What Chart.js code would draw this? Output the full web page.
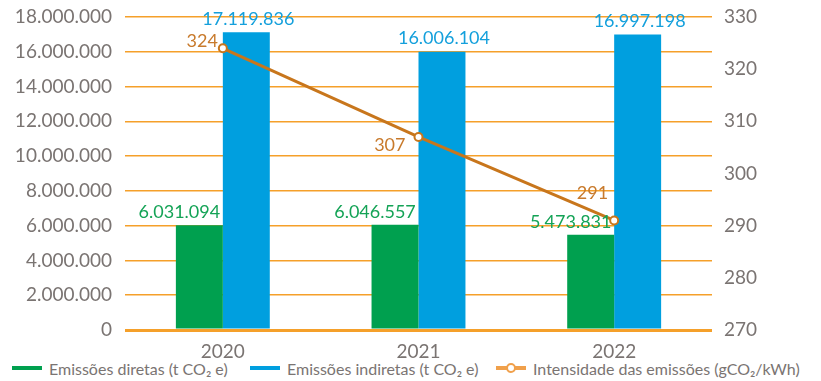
<!DOCTYPE html>
<html lang="pt-BR">
<head>
<meta charset="utf-8">
<script src="https://cdn.jsdelivr.net/npm/chart.js@4.4.1/dist/chart.umd.min.js"></script>
<style>
  html, body { margin: 0; padding: 0; background: #fff; }
  #wrap { position: relative; width: 821px; height: 381px; font-family: Lato, "Noto Sans", sans-serif; }
  #chart { position: absolute; left: 0; top: 0; }
  .legend-item { position: absolute; top: 358px; height: 20px; display: flex; align-items: center; font-size: 16px; color: #7a7472; white-space: nowrap; }
  .legend-item .mark { position: relative; width: 30px; height: 4px; margin-right: 7px; }
  .legend-item .dot { position: absolute; left: 10px; top: -3px; width: 10px; height: 10px; border: 2px solid #f0a04b; border-radius: 50%; background: #fff; box-sizing: border-box; }
</style>
</head>
<body>
<div id="wrap">
  <canvas id="chart" width="821" height="358"></canvas>
  <div class="legend-item" style="left:12px"><span class="mark" style="background:#00a04f"></span>Emissões diretas (t CO₂ e)</div>
  <div class="legend-item" style="left:250px"><span class="mark" style="background:#009fdf"></span>Emissões indiretas (t CO₂ e)</div>
  <div class="legend-item" style="left:496px"><span class="mark" style="background:#f0a04b"><span class="dot"></span></span>Intensidade das emissões (gCO₂/kWh)</div>
</div>
<script>
// ===============================
// DATA
// ===============================
const years = ["2020", "2021", "2022"];
const diretas = [6031094, 6046557, 5473831];
const indiretas = [17119836, 16006104, 16997198];
const intensidade = [324, 307, 291];

// label offsets for the intensity values (dx, dy from the point)
const lineLabelOffsets = [[-5, -7], [-13, 8], [-6, -27]];

const GREY = "#7a7472";
const GRID = "#f5a02a";

function fmtBR(v) {
  return String(Math.round(v)).replace(/\B(?=(\d{3})+(?!\d))/g, ".");
}

// vertical axes: no extra padding for the first/last tick label
function fitVertical(width) {
  return scale => {
    scale.width = width;
    scale.paddingTop = 0;
    scale.paddingBottom = 0;
  };
}

// ===============================
// VALUE LABELS
// ===============================
const valueLabels = {
  id: "valueLabels",
  afterDatasetsDraw(chart) {
    const ctx = chart.ctx;
    ctx.save();
    ctx.font = "18px Lato, 'Noto Sans', sans-serif";
    chart.data.datasets.forEach((ds, i) => {
      const meta = chart.getDatasetMeta(i);
      meta.data.forEach((el, j) => {
        const v = ds.data[j];
        if (ds.type === "line") {
          const off = lineLabelOffsets[j];
          ctx.fillStyle = "#c87a2c";
          ctx.textAlign = "right";
          ctx.textBaseline = "middle";
          ctx.fillText(String(v), el.x + off[0], el.y + off[1]);
        } else {
          ctx.fillStyle = ds.labelColor;
          ctx.textAlign = "center";
          ctx.textBaseline = "bottom";
          ctx.fillText(fmtBR(v), el.x + ds.labelShift, el.y - 4);
        }
      });
    });
    ctx.restore();
  }
};

// ===============================
// CHART
// ===============================
new Chart(document.getElementById("chart"), {
  data: {
    labels: years,
    datasets: [
      {
        type: "line",
        label: "Intensidade das emissões (gCO₂/kWh)",
        data: intensidade,
        yAxisID: "y2",
        borderColor: "#c8761c",
        borderWidth: 3,
        pointRadius: 4,
        pointBorderWidth: 2,
        pointBackgroundColor: "#fff",
        pointBorderColor: "#c8761c",
        order: 0
      },
      {
        type: "bar",
        label: "Emissões diretas (t CO₂ e)",
        data: diretas,
        yAxisID: "y",
        backgroundColor: "#00a04f",
        labelColor: "#14a356",
        labelShift: -20,
        categoryPercentage: 0.48,
        barPercentage: 1,
        order: 1
      },
      {
        type: "bar",
        label: "Emissões indiretas (t CO₂ e)",
        data: indiretas,
        yAxisID: "y",
        backgroundColor: "#009fdf",
        labelColor: "#14a0dc",
        labelShift: 2,
        categoryPercentage: 0.48,
        barPercentage: 1,
        order: 1
      }
    ]
  },
  options: {
    responsive: false,
    animation: false,
    layout: { padding: { top: 17, bottom: 0, left: 0, right: 0 } },
    plugins: {
      legend: { display: false },
      tooltip: { enabled: false }
    },
    scales: {
      x: {
        grid: { display: false },
        border: { display: false },
        ticks: { color: GREY, font: { size: 19, family: "Lato, 'Noto Sans', sans-serif" }, padding: 2 },
        afterFit(scale) { scale.height = 28; }
      },
      y: {
        position: "left",
        min: 0,
        max: 18000000,
        ticks: {
          stepSize: 2000000,
          color: GREY,
          padding: 13,
          font: { size: 19, family: "Lato, 'Noto Sans', sans-serif" },
          callback: v => fmtBR(v)
        },
        grid: {
          color: GRID,
          lineWidth: ctx => (ctx.tick && ctx.tick.value === 0 ? 3 : 1.5),
          drawTicks: false
        },
        border: { display: false },
        afterFit: fitVertical(125)
      },
      y2: {
        position: "right",
        min: 270,
        max: 330,
        ticks: {
          stepSize: 10,
          color: GREY,
          padding: 4,
          font: { size: 19, family: "Lato, 'Noto Sans', sans-serif" }
        },
        grid: { display: false },
        border: { display: false },
        afterFit: fitVertical(109)
      }
    }
  },
  plugins: [valueLabels]
});
</script>
</body>
</html>
